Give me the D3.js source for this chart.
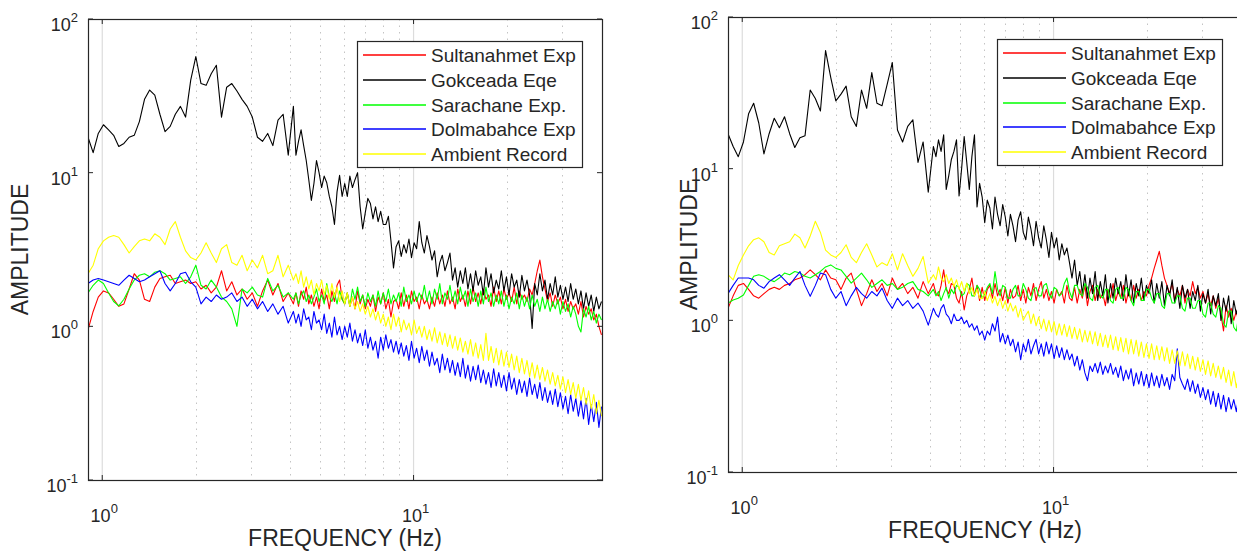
<!DOCTYPE html>
<html>
<head>
<meta charset="utf-8">
<script src="https://cdn.jsdelivr.net/npm/d3@7/dist/d3.min.js"></script>
<style>
  body { margin: 0; background: #fff; }
  svg { display: block; font-family: "Liberation Sans", Arial, Helvetica, sans-serif; }
</style>
</head>
<body>
<div id="chart"></div>
<script>
// ------ DATA ------//
// frequency grid (Hz): coarse below 4 Hz, finer above where the spectra get noisy
const freqHz = [0.900, 0.935, 0.971, 1.009, 1.048, 1.088, 1.130, 1.174, 1.220, 1.267,
  1.316, 1.367, 1.420, 1.475, 1.532, 1.591, 1.653, 1.717, 1.783, 1.852,
  1.924, 1.998, 2.076, 2.156, 2.239, 2.326, 2.416, 2.510, 2.607, 2.708,
  2.812, 2.921, 3.034, 3.152, 3.274, 3.400, 3.532, 3.669, 3.811, 3.958,
  4.111, 4.190, 4.270, 4.352, 4.436, 4.521, 4.607, 4.696, 4.786, 4.878,
  4.971, 5.066, 5.163, 5.262, 5.363, 5.466, 5.571, 5.678, 5.786, 5.897,
  6.010, 6.125, 6.243, 6.363, 6.485, 6.609, 6.736, 6.865, 6.997, 7.131,
  7.268, 7.407, 7.549, 7.694, 7.841, 7.992, 8.145, 8.301, 8.460, 8.622,
  8.788, 8.956, 9.128, 9.303, 9.481, 9.663, 9.848, 10.04, 10.23, 10.43,
  10.63, 10.83, 11.04, 11.25, 11.46, 11.68, 11.91, 12.14, 12.37, 12.61,
  12.85, 13.09, 13.34, 13.60, 13.86, 14.13, 14.40, 14.67, 14.95, 15.24,
  15.53, 15.83, 16.13, 16.44, 16.76, 17.08, 17.41, 17.74, 18.08, 18.43,
  18.78, 19.14, 19.51, 19.88, 20.26, 20.65, 21.05, 21.45, 21.86, 22.28,
  22.71, 23.14, 23.59, 24.04, 24.50, 24.97, 25.45, 25.94, 26.43, 26.94,
  27.46, 27.98, 28.52, 29.07, 29.62, 30.19, 30.77, 31.36, 31.96, 32.57,
  33.20, 33.84, 34.49, 35.15, 35.82, 36.51, 37.21, 37.92, 38.65, 39.39, 40.15];

const seriesNames = ["Sultanahmet Exp", "Gokceada Eqe", "Sarachane Exp.", "Dolmabahce Exp", "Ambient Record"];
const seriesColors = ["#ff0000", "#000000", "#00ff00", "#0000ff", "#ffff00"];

// left panel
const leftSultanahmet = [0.95, 1.25, 1.55, 1.7, 1.65, 1.5, 1.35, 1.4, 1.75, 2.2,
  2.0, 1.5, 1.45, 1.8, 2.05, 2.1, 2.15, 1.9, 1.95, 2.0,
  1.9, 1.95, 1.75, 1.85, 1.65, 1.8, 2.3, 1.7, 1.95, 1.6,
  1.75, 1.5, 1.65, 1.35, 1.7, 2.0, 1.6, 1.9, 1.45, 1.65,
  1.4, 1.65, 1.35, 1.7, 1.5, 1.8, 1.4, 1.6, 1.35, 1.55,
  1.3, 1.75, 1.45, 1.6, 1.3, 1.7, 1.45, 1.85, 2.0, 1.5,
  1.4, 1.65, 1.35, 1.55, 1.3, 1.7, 1.4, 1.6, 1.3, 1.5,
  1.35, 1.6, 1.25, 1.55, 1.4, 1.65, 1.3, 1.5, 1.15, 1.45,
  1.5, 1.3, 1.65, 1.35, 1.6, 1.3, 1.7, 1.45, 1.55, 1.3,
  1.6, 1.4, 1.5, 1.3, 1.55, 1.35, 1.65, 1.4, 1.6, 1.35,
  1.7, 1.4, 1.55, 1.3, 1.75, 1.45, 1.6, 1.35, 1.7, 1.4,
  1.8, 1.45, 1.65, 1.4, 1.75, 1.5, 1.6, 1.35, 1.8, 1.45,
  1.7, 1.4, 1.75, 1.5, 1.65, 1.45, 1.8, 1.4, 1.7, 1.5,
  1.6, 1.45, 1.75, 1.6, 1.9, 2.3, 2.7, 2.1, 1.75, 1.45,
  1.65, 1.35, 1.6, 1.4, 1.55, 1.3, 1.5, 1.25, 1.45, 1.3,
  1.4, 1.2, 1.45, 1.15, 1.35, 1.2, 1.3, 1.1, 1.2, 1.0, 0.88];

const leftGokceada = [17, 13.5, 18, 20.5, 19, 17.5, 14.8, 15.5, 17, 17.5,
  21.5, 30, 34.5, 32, 24, 18.5, 20, 24, 27, 23,
  40, 57, 38, 37, 44, 50, 23, 36, 38, 34,
  30, 27, 23, 17, 16, 18, 15, 22, 24, 13,
  27, 13, 16, 19, 15, 12, 9, 6.6, 8.5, 12,
  10, 8, 9.5, 8.6, 7, 6, 4.6, 7.5, 9.6, 7,
  8.5, 7, 9.5, 8, 9, 10, 6, 4.3, 5.5, 6.8,
  6.3, 5, 6, 4.8, 5.6, 4.6, 4.6, 5.2, 3.6, 2.4,
  3.3, 3.6, 2.85, 3.4, 3.0, 3.7, 2.8, 3.5, 3.2, 4.8,
  3.5, 3.0, 3.9, 3.3, 2.7, 3.1, 2.1, 2.6, 2.9, 2.3,
  2.6, 3.0, 2.0, 2.4, 1.8, 2.3, 1.9, 2.4, 1.75, 2.2,
  1.7, 2.3, 1.85, 2.1, 1.6, 2.4, 1.8, 2.2, 1.65, 2.0,
  1.75, 2.3, 1.7, 2.1, 1.6, 2.2, 1.8, 2.0, 1.55, 2.15,
  1.7, 2.0, 1.6, 0.97, 1.9, 1.6, 2.2, 1.7, 2.0, 1.5,
  1.9, 1.6, 2.1, 1.55, 1.85, 1.5, 1.8, 1.45, 1.9, 1.5,
  1.75, 1.4, 1.7, 1.3, 1.65, 1.35, 1.6, 1.25, 1.55, 1.3, 1.45];

const leftSarachane = [1.65, 1.85, 2.0, 1.9, 1.65, 1.45, 1.36, 1.5, 1.75, 2.0,
  2.15, 2.2, 2.1, 2.25, 2.3, 2.2, 2.0, 2.05, 2.1, 1.9,
  2.1, 2.5, 1.85, 1.75, 2.0, 1.8, 1.55, 1.45, 1.3, 1.0,
  1.75, 1.65, 1.8, 1.6, 1.55, 2.05, 1.7, 1.85, 1.55, 1.65,
  1.5, 1.65, 1.4, 1.6, 1.7, 1.45, 1.6, 1.4, 1.55, 1.75,
  1.45, 1.6, 1.4, 1.9, 1.55, 1.45, 1.65, 1.4, 1.7, 1.5,
  1.4, 1.65, 1.35, 1.75, 1.5, 1.8, 1.45, 1.6, 1.35, 1.65,
  1.45, 1.6, 1.35, 1.7, 1.4, 1.65, 1.45, 1.75, 1.4, 1.6,
  1.45, 1.65, 1.35, 1.8, 1.45, 1.6, 1.4, 1.7, 1.45, 1.65,
  1.5, 1.85, 1.45, 1.7, 1.4, 1.75, 1.5, 1.9, 1.4, 1.65,
  1.5, 1.85, 1.45, 1.7, 1.4, 1.8, 1.5, 1.7, 1.35, 1.75,
  1.45, 1.65, 1.35, 1.7, 1.4, 1.8, 1.45, 1.65, 1.35, 1.6,
  1.4, 1.7, 1.35, 1.6, 1.3, 1.55, 1.4, 1.65, 1.3, 1.6,
  1.35, 1.55, 1.3, 1.6, 1.35, 1.5, 1.25, 1.55, 1.3, 1.5,
  1.25, 1.45, 1.3, 1.5, 1.2, 1.45, 1.25, 1.4, 1.15, 1.35,
  1.2, 1.0, 0.92, 1.3, 1.15, 1.35, 1.1, 1.25, 1.05, 1.2, 1.1];

const leftDolmabahce = [1.9, 2.0, 2.05, 2.0, 1.95, 1.9, 1.85, 2.0, 2.15, 2.05,
  1.95, 2.0, 2.1, 2.2, 2.3, 1.9, 1.7, 1.9, 2.2, 2.25,
  1.95, 1.8, 1.4, 1.55, 1.45, 1.6, 1.5, 1.55, 1.65, 1.45,
  1.55, 1.35, 1.5, 1.3, 1.45, 1.25, 1.4, 1.2, 1.35, 1.05,
  1.25, 1.05, 1.2, 1.0, 1.3, 1.1, 1.15, 0.95, 1.25, 1.05,
  1.1, 0.95, 1.2, 0.9, 1.05, 0.85, 1.15, 0.88, 1.0, 0.82,
  1.0, 0.85, 1.05, 0.8, 0.95, 0.78, 0.9, 0.75, 0.95, 0.72,
  0.85, 0.7, 0.8, 0.62, 0.85, 0.7, 0.88, 0.72, 0.82, 0.68,
  0.8, 0.66, 0.78, 0.64, 0.75, 0.6, 0.8, 0.62, 0.72, 0.58,
  0.74, 0.6, 0.7, 0.55, 0.68, 0.56, 0.62, 0.5, 0.66, 0.52,
  0.62, 0.5, 0.6, 0.48, 0.58, 0.47, 0.62, 0.46, 0.56, 0.44,
  0.55, 0.45, 0.56, 0.43, 0.52, 0.42, 0.5, 0.4, 0.53, 0.41,
  0.5, 0.4, 0.48, 0.38, 0.5, 0.39, 0.46, 0.36, 0.45, 0.37,
  0.44, 0.35, 0.46, 0.36, 0.42, 0.34, 0.43, 0.33, 0.4, 0.32,
  0.38, 0.31, 0.39, 0.3, 0.37, 0.29, 0.35, 0.27, 0.36, 0.28,
  0.34, 0.26, 0.33, 0.25, 0.34, 0.23, 0.31, 0.24, 0.32, 0.22, 0.3];

const leftAmbient = [2.2, 2.5, 3.2, 3.6, 3.8, 3.9, 3.8, 3.4, 3.0, 3.3,
  3.6, 3.7, 3.6, 4.0, 3.8, 3.4, 4.3, 4.8, 3.8, 3.1,
  2.8, 2.7, 3.0, 3.5, 3.0, 2.6, 3.2, 3.4, 2.6, 2.5,
  2.9, 2.3, 2.7, 2.4, 2.9, 2.2, 2.3, 2.9, 2.1, 2.5,
  2.0, 2.2, 1.9, 2.3, 1.8, 2.1, 1.75, 2.0, 1.6, 1.9,
  1.7, 2.0, 1.6, 1.85, 1.5, 1.9, 1.55, 1.8, 1.45, 1.7,
  1.4, 1.65, 1.35, 1.55, 1.3, 1.45, 1.25, 1.4, 1.2, 1.35,
  1.15, 1.3, 1.1, 1.25, 1.05, 1.2, 1.0, 1.15, 0.95, 1.2,
  1.0, 1.15, 0.92, 1.1, 0.95, 1.05, 0.88, 1.1, 0.9, 1.0,
  0.85, 1.0, 0.82, 0.95, 0.8, 0.98, 0.78, 0.92, 0.76, 0.9,
  0.74, 0.88, 0.72, 0.86, 0.7, 0.84, 0.68, 0.8, 0.66, 0.82,
  0.64, 0.78, 0.62, 0.76, 0.6, 0.9, 0.6, 0.74, 0.58, 0.72,
  0.56, 0.7, 0.55, 0.68, 0.54, 0.66, 0.52, 0.64, 0.5, 0.62,
  0.49, 0.6, 0.47, 0.58, 0.46, 0.56, 0.45, 0.54, 0.44, 0.52,
  0.42, 0.5, 0.41, 0.48, 0.39, 0.47, 0.37, 0.45, 0.36, 0.43,
  0.34, 0.42, 0.33, 0.4, 0.31, 0.38, 0.29, 0.36, 0.27, 0.33, 0.26];

// right panel
const rightSultanahmet = [1.2, 1.45, 1.7, 1.75, 1.6, 1.45, 1.4, 1.5, 1.6, 1.65,
  1.6, 1.7, 1.75, 1.85, 1.9, 2.0, 2.15, 2.0, 1.85, 2.15,
  1.9, 1.85, 1.6, 1.9, 2.05, 1.6, 1.25, 1.5, 1.85, 1.55,
  1.75, 1.45, 1.9, 1.6, 1.75, 1.5, 1.65, 1.4, 1.8, 1.5,
  1.75, 1.5, 1.45, 1.7, 2.15, 1.6, 1.5, 1.75, 1.7, 1.4,
  1.3, 1.55, 1.17, 1.45, 1.6, 1.9, 1.45, 1.7, 1.35, 1.65,
  1.35, 1.6, 1.7, 1.4, 1.75, 1.45, 1.6, 1.35, 1.65, 1.3,
  1.6, 1.4, 1.45, 1.7, 1.35, 1.6, 1.3, 1.65, 1.45, 1.75,
  1.35, 1.6, 1.8, 1.4, 1.6, 1.35, 1.55, 1.3, 1.6, 1.45,
  1.55, 1.3, 1.7, 1.4, 1.35, 1.65, 1.3, 1.6, 1.4, 1.7,
  1.25, 1.55, 1.7, 1.35, 1.6, 1.4, 1.5, 1.25, 1.6, 1.4,
  1.75, 1.35, 1.55, 1.4, 1.7, 1.3, 1.55, 1.35, 1.7, 1.4,
  1.6, 1.35, 1.55, 1.45, 1.7, 1.9, 2.2, 2.5, 2.85, 2.3,
  1.9, 1.7, 1.5, 1.75, 1.35, 1.6, 1.45, 1.7, 1.3, 1.6,
  1.45, 1.8, 1.5, 1.65, 1.4, 1.55, 1.3, 1.5, 1.25, 1.45,
  1.2, 1.4, 1.1, 0.85, 1.25, 1.05, 1.2, 1.0, 1.15, 0.95, 1.0];

const rightGokceada = [17, 14, 12, 15, 23, 27, 20, 12.5, 17, 21.5,
  18.6, 22, 17, 13.8, 16, 16.5, 33, 29, 24, 60,
  40, 28, 31, 35, 22, 19, 33, 25, 43, 27,
  26, 36, 50, 18, 15, 19, 21, 11, 15, 7,
  14, 12, 15.5, 13, 16.7, 7.3, 9, 11.5, 13, 15.5,
  6.6, 10, 16.3, 11, 7.3, 12, 16.7, 5.6, 8, 6.5,
  4.4, 6.2, 5.5, 4, 6.5, 5, 4.2, 5.8, 4.8, 3.6,
  5.0, 4.2, 3.3, 4.6, 5.2, 3.8, 3.4, 4.8, 4.0, 3.1,
  4.5, 3.5, 3.0, 4.2, 3.4, 2.6, 3.8, 3.0, 3.5, 2.5,
  3.2, 2.7, 3.0, 2.4, 1.9, 2.5, 1.7, 2.1, 1.5, 2.0,
  1.4, 1.9, 1.5, 2.1, 1.35, 1.8, 1.45, 2.0, 1.3, 1.75,
  1.4, 1.9, 1.5, 1.8, 1.35, 2.0, 1.45, 1.85, 1.3, 1.75,
  1.45, 1.9, 1.35, 1.7, 1.5, 1.85, 1.3, 1.75, 1.4, 1.8,
  1.25, 1.7, 1.45, 1.85, 1.3, 1.65, 1.2, 1.7, 1.4, 1.6,
  1.2, 1.55, 1.35, 1.7, 1.15, 1.5, 1.3, 1.6, 1.1, 1.45,
  1.25, 1.5, 1.0, 1.4, 1.15, 1.45, 0.95, 1.35, 1.1, 1.3, 1.2];

const rightSarachane = [1.3, 1.36, 1.4, 1.47, 1.7, 1.95, 2.0, 1.95, 1.85, 1.8,
  1.9, 2.05, 2.0, 2.1, 2.05, 1.95, 1.9, 2.0, 2.1, 2.25,
  2.32, 2.2, 2.15, 1.95, 1.76, 1.9, 2.05, 1.85, 1.65, 1.75,
  1.85, 1.7, 1.75, 1.6, 1.65, 1.75, 1.8, 1.6, 1.55, 1.45,
  1.6, 1.45, 1.55, 1.35, 1.5, 1.65, 1.4, 1.6, 1.5, 1.7,
  1.65, 1.45, 1.5, 1.75, 1.7, 1.45, 1.45, 1.7, 1.6, 1.4,
  1.5, 1.65, 1.75, 1.5, 2.1, 1.6, 1.45, 1.7, 1.65, 1.4,
  1.4, 1.6, 1.7, 1.45, 1.45, 1.75, 1.6, 1.4, 1.35, 1.6,
  1.65, 1.45, 1.45, 1.7, 1.75, 1.5, 1.4, 1.65, 1.6, 1.45,
  1.5, 1.75, 1.9, 1.55, 1.4, 1.7, 1.7, 1.5, 1.45, 1.75,
  1.65, 1.4, 1.35, 1.65, 1.7, 1.45, 1.4, 1.6, 1.6, 1.35,
  1.3, 1.6, 1.65, 1.4, 1.4, 1.65, 1.6, 1.35, 1.25, 1.55,
  1.55, 1.35, 1.35, 1.6, 1.6, 1.4, 1.3, 1.5, 1.5, 1.25,
  1.2, 1.5, 1.5, 1.3, 1.3, 1.45, 1.45, 1.2, 1.15, 1.4,
  1.4, 1.2, 1.2, 1.35, 1.35, 1.1, 1.05, 1.3, 1.3, 1.1,
  1.05, 1.25, 1.2, 0.95, 0.9, 1.15, 1.15, 0.9, 0.85, 1.1, 1.05];

const rightDolmabahce = [1.5, 1.7, 1.9, 1.9, 1.9, 1.85, 1.7, 1.63, 1.8, 1.9,
  2.0, 1.85, 1.7, 1.9, 2.1, 1.7, 1.44, 1.7, 2.05, 2.0,
  1.6, 1.4, 1.55, 1.25, 1.45, 1.65, 1.5, 1.4, 1.55, 1.45,
  1.63, 1.35, 1.2, 1.4, 1.25, 1.35, 1.2, 1.3, 1.15, 0.93,
  1.2, 1.1, 1.05, 1.2, 1.27, 1.1, 1.05, 0.95, 1.1, 1.0,
  1.0, 1.05, 0.95, 1.0, 0.9, 0.95, 0.86, 0.92, 0.8, 0.85,
  0.74, 0.85, 0.8, 0.95, 0.85, 1.05, 0.72, 0.82, 0.7, 0.8,
  0.68, 0.75, 0.62, 0.72, 0.55, 0.7, 0.62, 0.75, 0.6, 0.68,
  0.75, 0.6, 0.7, 0.58, 0.72, 0.6, 0.7, 0.56, 0.68, 0.57,
  0.66, 0.55, 0.64, 0.55, 0.6, 0.5, 0.58, 0.47, 0.55, 0.45,
  0.4, 0.5, 0.46, 0.52, 0.45, 0.53, 0.44, 0.5, 0.45, 0.52,
  0.44, 0.49, 0.42, 0.5, 0.4, 0.47, 0.41, 0.48, 0.37, 0.45,
  0.38, 0.46, 0.37, 0.44, 0.36, 0.45, 0.37, 0.43, 0.36, 0.44,
  0.37, 0.42, 0.35, 0.44, 0.4, 0.65, 0.42, 0.38, 0.35, 0.41,
  0.34, 0.4, 0.33, 0.38, 0.31, 0.36, 0.3, 0.35, 0.28, 0.34,
  0.27, 0.33, 0.26, 0.32, 0.25, 0.31, 0.26, 0.3, 0.25, 0.32, 0.29];

const rightAmbient = [2.0, 1.85, 2.3, 2.7, 3.1, 3.4, 3.5, 3.3, 2.8, 2.7,
  3.1, 3.2, 3.3, 3.7, 3.5, 3.0, 3.6, 4.5, 3.8, 2.9,
  2.7, 2.6, 2.8, 3.15, 2.6, 2.4, 2.8, 3.2, 2.7, 2.25,
  2.4, 2.3, 2.75, 2.15, 2.75, 2.3, 1.95, 2.2, 2.64, 1.76,
  2.0, 1.85, 2.25, 1.9, 1.8, 2.0, 1.75, 1.9, 1.67, 1.85,
  1.6, 1.8, 1.55, 1.76, 1.5, 1.65, 1.45, 1.6, 1.4, 1.39,
  1.55, 1.35, 1.5, 1.3, 1.44, 1.25, 1.4, 1.2, 1.35, 1.15,
  1.3, 1.15, 1.25, 1.05, 1.2, 1.0, 1.08, 1.15, 0.95, 1.1,
  0.92, 1.05, 0.88, 1.02, 0.85, 1.0, 0.84, 0.98, 0.8, 0.95,
  0.8, 0.94, 0.78, 0.92, 0.76, 0.9, 0.75, 0.88, 0.72, 0.86,
  0.72, 0.85, 0.7, 0.84, 0.68, 0.82, 0.67, 0.8, 0.66, 0.8,
  0.64, 0.78, 0.63, 0.77, 0.62, 0.76, 0.6, 0.75, 0.6, 0.74,
  0.58, 0.72, 0.57, 0.7, 0.56, 0.7, 0.55, 0.68, 0.55, 0.67,
  0.54, 0.66, 0.52, 0.64, 0.52, 0.63, 0.5, 0.62, 0.5, 0.6,
  0.48, 0.58, 0.47, 0.57, 0.46, 0.55, 0.44, 0.54, 0.43, 0.52,
  0.42, 0.5, 0.41, 0.49, 0.39, 0.47, 0.37, 0.46, 0.36, 0.44, 0.4];

const xMajorTicks = [1, 10];
const xMinorGrid = [2, 3, 4, 5, 6, 7, 8, 9, 20, 30];
const yMajorTicks = [0.1, 1, 10, 100];

// ------ LAYOUT ------//
const width = 1237;
const height = 553;

const X_DOMAIN = [0.9, 40.3];
const Y_DOMAIN = [0.1, 100];

const AXIS_COLOR = "#262626";
const TICK_LEN = 5;

const LEGEND_W = 225;
const LEGEND_H = 126;

const panels = [
  { x0: 88, x1: 602, y0: 19, y1: 480, ampX: 20, freqY: 546,
    data: [leftSultanahmet, leftGokceada, leftSarachane, leftDolmabahce, leftAmbient] },
  { x0: 728, x1: 1242, y0: 17, y1: 472, ampX: 689, freqY: 538,
    data: [rightSultanahmet, rightGokceada, rightSarachane, rightDolmabahce, rightAmbient] }
];

const svg = d3
  .select("#chart")
  .append("svg")
  .attr("width", width)
  .attr("height", height);

svg.append("rect").attr("width", width).attr("height", height).attr("fill", "#fff");

const defs = svg.append("defs");

panels.forEach((p, k) => {
  const x = d3.scaleLog().domain(X_DOMAIN).range([p.x0, p.x1]);
  const y = d3.scaleLog().domain(Y_DOMAIN).range([p.y1, p.y0]);

  defs.append("clipPath").attr("id", "clip" + k)
    .append("rect")
    .attr("x", p.x0).attr("y", p.y0)
    .attr("width", p.x1 - p.x0).attr("height", p.y1 - p.y0);

  const g = svg.append("g");

  // grid (vertical only, like the matlab figure)
  g.selectAll("line.minor")
    .data(xMinorGrid)
    .enter()
    .append("line")
    .attr("x1", (d) => Math.round(x(d)) + 0.5).attr("x2", (d) => Math.round(x(d)) + 0.5)
    .attr("y1", p.y0).attr("y2", p.y1)
    .attr("stroke", "#c4c4c4")
    .attr("stroke-width", 1)
    .attr("stroke-dasharray", "1.5,5");

  g.selectAll("line.major")
    .data(xMajorTicks)
    .enter()
    .append("line")
    .attr("x1", (d) => x(d)).attr("x2", (d) => x(d))
    .attr("y1", p.y0).attr("y2", p.y1)
    .attr("stroke", "#dcdcdc")
    .attr("stroke-width", 1.2);

  // spectra, plotted in legend order so the yellow ends up on top
  const line = d3.line()
    .x((d, i) => x(freqHz[i]))
    .y((d) => y(d));

  g.append("g")
    .attr("clip-path", "url(#clip" + k + ")")
    .selectAll("path")
    .data(p.data)
    .enter()
    .append("path")
    .attr("d", (d) => line(d))
    .attr("fill", "none")
    .attr("stroke", (d, i) => seriesColors[i])
    .attr("stroke-width", 1.1)
    .attr("stroke-linejoin", "round");

  // box
  g.append("rect")
    .attr("x", p.x0 + 0.5).attr("y", p.y0 + 0.5)
    .attr("width", p.x1 - p.x0).attr("height", p.y1 - p.y0)
    .attr("fill", "none")
    .attr("stroke", AXIS_COLOR)
    .attr("stroke-width", 1.2);

  // ticks, inward on all four sides
  xMajorTicks.forEach((t) => {
    g.append("line").attr("x1", x(t)).attr("x2", x(t))
      .attr("y1", p.y1).attr("y2", p.y1 - TICK_LEN).attr("stroke", AXIS_COLOR);
    g.append("line").attr("x1", x(t)).attr("x2", x(t))
      .attr("y1", p.y0).attr("y2", p.y0 + TICK_LEN).attr("stroke", AXIS_COLOR);
  });
  yMajorTicks.forEach((t) => {
    g.append("line").attr("x1", p.x0).attr("x2", p.x0 + TICK_LEN)
      .attr("y1", y(t)).attr("y2", y(t)).attr("stroke", AXIS_COLOR);
    g.append("line").attr("x1", p.x1).attr("x2", p.x1 - TICK_LEN)
      .attr("y1", y(t)).attr("y2", y(t)).attr("stroke", AXIS_COLOR);
  });

  // tick labels 10^n
  const xl = g.selectAll("text.xtick")
    .data(xMajorTicks)
    .enter()
    .append("text")
    .attr("x", (d) => x(d) + 2)
    .attr("y", p.y1 + 42)
    .attr("text-anchor", "middle")
    .attr("fill", AXIS_COLOR)
    .style("font-size", "18px");
  xl.append("tspan").text("10");
  xl.append("tspan").attr("dy", -9).style("font-size", "13px").text((d) => Math.round(Math.log10(d)));

  const yl = g.selectAll("text.ytick")
    .data(yMajorTicks)
    .enter()
    .append("text")
    .attr("x", p.x0 - 10)
    .attr("y", (d) => y(d) + 12)
    .attr("text-anchor", "end")
    .attr("fill", AXIS_COLOR)
    .style("font-size", "18px");
  yl.append("tspan").text("10");
  yl.append("tspan").attr("dy", -9).style("font-size", "13px").text((d) => Math.round(Math.log10(d)));

  // axis titles
  g.append("text")
    .attr("transform", `translate(${p.ampX + 8},${(p.y0 + p.y1) / 2}) rotate(-90)`)
    .attr("text-anchor", "middle")
    .attr("fill", AXIS_COLOR)
    .style("font-size", "23px")
    .text("AMPLITUDE");

  g.append("text")
    .attr("x", (p.x0 + p.x1) / 2)
    .attr("y", p.freqY)
    .attr("text-anchor", "middle")
    .attr("fill", AXIS_COLOR)
    .style("font-size", "23px")
    .text("FREQUENCY (Hz)");

  // legend
  const lx = Math.round(p.x1 - 20 - LEGEND_W);
  const ly = Math.round(p.y0 + 22);
  const leg = g.append("g").attr("transform", `translate(${lx},${ly})`);
  leg.append("rect")
    .attr("x", 0.5).attr("y", 0.5)
    .attr("width", LEGEND_W).attr("height", LEGEND_H)
    .attr("fill", "#fff")
    .attr("stroke", AXIS_COLOR)
    .attr("stroke-width", 1.2);
  const rows = leg.selectAll("g.row")
    .data(seriesNames)
    .enter()
    .append("g")
    .attr("class", "row")
    .attr("transform", (d, i) => `translate(0,${Math.round(14 + i * 24.8)})`);
  // integer y, so the thin sample line is spread over two pixel rows
  rows.append("line")
    .attr("x1", 6).attr("x2", 69)
    .attr("stroke", (d, i) => seriesColors[i])
    .attr("stroke-width", 1.4);
  rows.append("text")
    .attr("x", 74)
    .attr("y", 7)
    .attr("fill", AXIS_COLOR)
    .style("font-size", "19px")
    .text((d) => d);
});
</script>
</body>
</html>
